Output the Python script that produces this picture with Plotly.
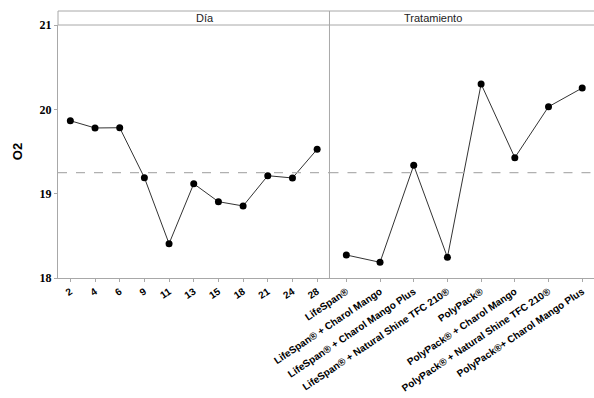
import plotly.graph_objects as go

# O2 main-effects data
dias = ["2", "4", "6", "9", "11", "13", "15", "18", "21", "24", "28"]
o2_dia = [19.865, 19.779, 19.782, 19.19, 18.407, 19.118, 18.905, 18.854, 19.213, 19.186, 19.526]

tratamientos = [
    "LifeSpan®",
    "LifeSpan® + Charol Mango",
    "LifeSpan® + Charol Mango Plus",
    "LifeSpan® + Natural Shine TFC 210®",
    "PolyPack®",
    "PolyPack® + Charol Mango",
    "PolyPack® + Natural Shine TFC 210®",
    "PolyPack®+ Charol Mango Plus",
]
o2_trat = [18.273, 18.186, 19.336, 18.245, 20.30, 19.427, 20.031, 20.253]

media_global = 19.25
y_ticks = [18, 19, 20, 21]
paneles = ["Día", "Tratamiento"]

GRAY = "#a8a8a8"
split = 0.5065

fig = go.Figure()
line_style = dict(color="#333333", width=1)
marker_style = dict(color="black", size=7)

fig.add_trace(go.Scatter(x=dias, y=o2_dia, mode="lines+markers",
                         line=line_style, marker=marker_style,
                         xaxis="x", yaxis="y", showlegend=False))
fig.add_trace(go.Scatter(x=tratamientos, y=o2_trat, mode="lines+markers",
                         line=line_style, marker=marker_style,
                         xaxis="x2", yaxis="y", showlegend=False))

tick_font = dict(family="Liberation Sans, Arial", size=10, color="black", weight="bold")

fig.update_layout(
    width=594, height=398,
    margin=dict(l=58, r=0, t=25, b=120),
    paper_bgcolor="white", plot_bgcolor="white",
    xaxis=dict(domain=[0, split], type="category", range=[-0.5, 10.5],
               showgrid=False, zeroline=False, showline=True, linecolor=GRAY,
               ticks="outside", ticklen=3, tickcolor=GRAY, tickangle=-34,
               tickfont=tick_font),
    xaxis2=dict(domain=[split, 1], type="category", range=[-0.5, 7.35],
                anchor="y", showgrid=False, zeroline=False, showline=True,
                linecolor=GRAY, ticks="outside", ticklen=3, tickcolor=GRAY,
                tickangle=-34, tickfont=tick_font),
    yaxis=dict(range=[18, 21], tickvals=y_ticks, showgrid=False, zeroline=False,
               showline=True, linecolor=GRAY, ticks="outside", ticklen=3,
               tickcolor=GRAY,
               tickfont=dict(family="Liberation Serif, Times New Roman", size=12,
                             color="black", weight="bold"),
               title=dict(text="O2", standoff=14,
                          font=dict(family="Liberation Sans, Arial", size=13,
                                    color="black", weight="bold"))),
)

# reference line at the grand mean, across both panels
for xr in ["x", "x2"]:
    fig.add_shape(type="line", xref=f"{xr} domain", yref="y", x0=0, x1=1,
                  y0=media_global, y1=media_global,
                  line=dict(color="#b0b0b0", width=1.2, dash="dash"))

# panel header strip and the divider between panels
strip_top = 1 + 14 / 253
fig.add_shape(type="rect", xref="paper", yref="paper", x0=0, x1=1.01,
              y0=1, y1=strip_top, line=dict(color=GRAY, width=1), fillcolor="white")
fig.add_shape(type="line", xref="paper", yref="paper", x0=split, x1=split,
              y0=0, y1=strip_top, line=dict(color=GRAY, width=1))

for label, (a, b) in zip(paneles, [(0, split), (split, 1.01)]):
    fig.add_annotation(text=label, xref="paper", yref="paper", x=(a + b) / 2,
                       y=(1 + strip_top) / 2, showarrow=False, yanchor="middle",
                       font=dict(family="Liberation Sans, Arial", size=11,
                                 color="#222222"))

fig.write_html("out.html")
